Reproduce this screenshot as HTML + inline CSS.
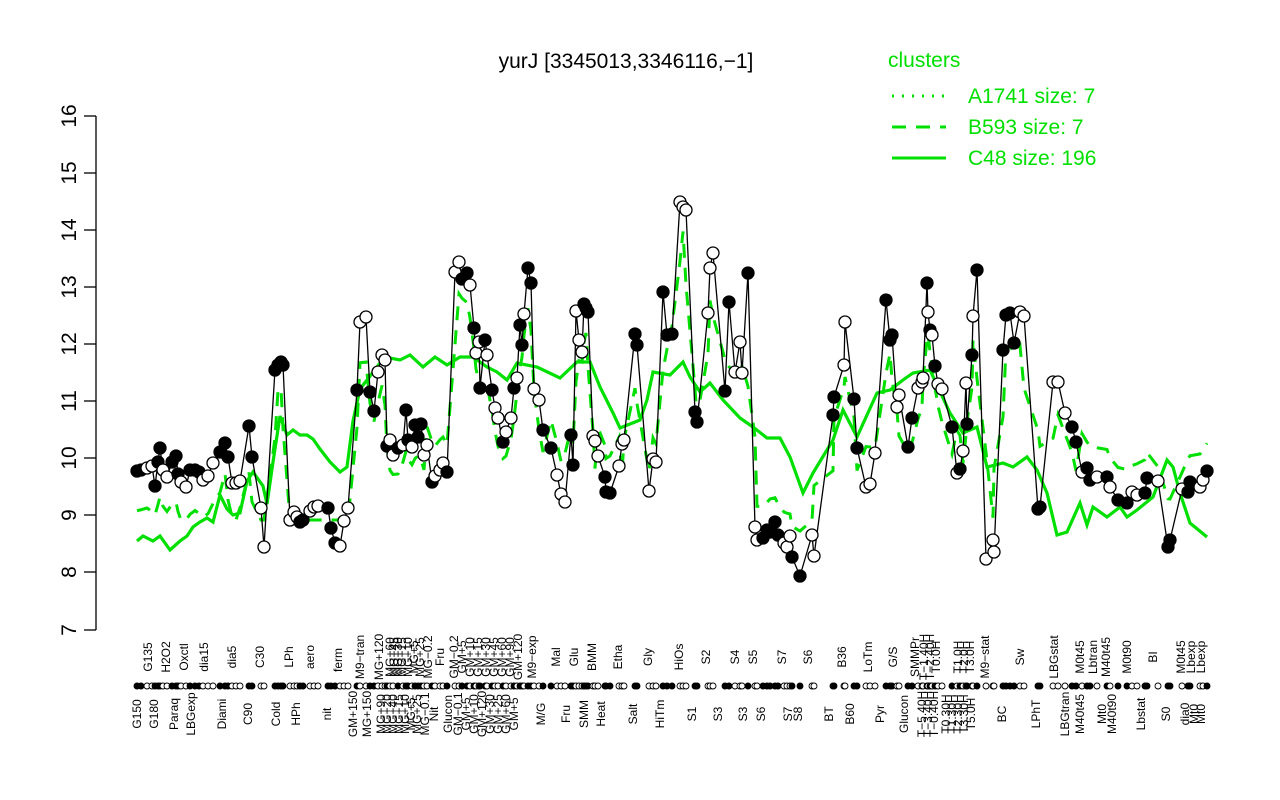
<!DOCTYPE html>
<html><head><meta charset="utf-8"><style>
html,body{margin:0;padding:0;background:#fff;}
svg{display:block;font-family:"Liberation Sans",Arial,sans-serif;}
</style></head><body>
<svg id="s" width="1280" height="800" viewBox="0 0 1280 800" xmlns="http://www.w3.org/2000/svg">
<rect width="1280" height="800" fill="#fff"/>
<text x="626" y="68" font-size="21" text-anchor="middle">yurJ [3345013,3346116,−1]</text>
<g stroke="#000" stroke-width="1.3">
<line x1="96" y1="116" x2="96" y2="630"/>
<line x1="84" y1="116" x2="96" y2="116"/><line x1="84" y1="173" x2="96" y2="173"/>
<line x1="84" y1="230" x2="96" y2="230"/><line x1="84" y1="287" x2="96" y2="287"/>
<line x1="84" y1="344" x2="96" y2="344"/><line x1="84" y1="401" x2="96" y2="401"/>
<line x1="84" y1="458" x2="96" y2="458"/><line x1="84" y1="515" x2="96" y2="515"/>
<line x1="84" y1="572" x2="96" y2="572"/><line x1="84" y1="630" x2="96" y2="630"/>
</g>
<g font-size="21" text-anchor="middle">
<text transform="translate(76,116) rotate(-90)">16</text>
<text transform="translate(76,173) rotate(-90)">15</text>
<text transform="translate(76,230) rotate(-90)">14</text>
<text transform="translate(76,287) rotate(-90)">13</text>
<text transform="translate(76,344) rotate(-90)">12</text>
<text transform="translate(76,401) rotate(-90)">11</text>
<text transform="translate(76,458) rotate(-90)">10</text>
<text transform="translate(76,515) rotate(-90)">9</text>
<text transform="translate(76,572) rotate(-90)">8</text>
<text transform="translate(76,630) rotate(-90)">7</text>
</g>
<g fill="#00e000" font-size="21">
<text x="888" y="67">clusters</text>
<text x="968" y="103">A1741 size: 7</text>
<text x="968" y="134">B593 size: 7</text>
<text x="968" y="165">C48 size: 196</text>
</g>
<g stroke="#00e000" stroke-width="3" fill="none">
<line x1="892" y1="96" x2="946" y2="96" stroke-dasharray="2,8"/>
<line x1="892" y1="127" x2="946" y2="127" stroke-dasharray="14,10"/>
<line x1="892" y1="158" x2="946" y2="158"/>
</g>
<g id="plot"></g>
<g font-size="12" text-anchor="middle">
<text transform="translate(152,657) rotate(-90)">G135</text>
<text transform="translate(170,657) rotate(-90)">H2O2</text>
<text transform="translate(188,657) rotate(-90)">Oxctl</text>
<text transform="translate(208,657) rotate(-90)">dia15</text>
<text transform="translate(236,657) rotate(-90)">dia5</text>
<text transform="translate(264,657) rotate(-90)">C30</text>
<text transform="translate(293,657) rotate(-90)">LPh</text>
<text transform="translate(314,657) rotate(-90)">aero</text>
<text transform="translate(342,660) rotate(-90)">ferm</text>
<text transform="translate(364,657) rotate(-90)">M9−tran</text>
<text transform="translate(383,657) rotate(-90)">MG+120</text>
<text transform="translate(394,657) rotate(-90)">MG+60</text>
<text transform="translate(398,657) rotate(-90)">MG+45</text>
<text transform="translate(402,657) rotate(-90)">MG+30</text>
<text transform="translate(406,657) rotate(-90)">MG+15</text>
<text transform="translate(412,657) rotate(-90)">MG+10</text>
<text transform="translate(418,657) rotate(-90)">MG+5</text>
<text transform="translate(424,657) rotate(-90)">MG+25</text>
<text transform="translate(432,657) rotate(-90)">MG−0.2</text>
<text transform="translate(444,657) rotate(-90)">Fru</text>
<text transform="translate(458,657) rotate(-90)">GM−0.2</text>
<text transform="translate(466,657) rotate(-90)">GM+5</text>
<text transform="translate(474,657) rotate(-90)">GM+10</text>
<text transform="translate(482,657) rotate(-90)">GM+15</text>
<text transform="translate(490,657) rotate(-90)">GM+30</text>
<text transform="translate(498,657) rotate(-90)">GM+45</text>
<text transform="translate(506,657) rotate(-90)">GM+60</text>
<text transform="translate(514,657) rotate(-90)">GM+90</text>
<text transform="translate(522,657) rotate(-90)">GM+120</text>
<text transform="translate(536,657) rotate(-90)">M9−exp</text>
<text transform="translate(560,657) rotate(-90)">Mal</text>
<text transform="translate(578,657) rotate(-90)">Glu</text>
<text transform="translate(596,657) rotate(-90)">BMM</text>
<text transform="translate(622,657) rotate(-90)">Etha</text>
<text transform="translate(652,657) rotate(-90)">Gly</text>
<text transform="translate(683,657) rotate(-90)">HiOs</text>
<text transform="translate(710,657) rotate(-90)">S2</text>
<text transform="translate(739,657) rotate(-90)">S4</text>
<text transform="translate(757,657) rotate(-90)">S5</text>
<text transform="translate(786,657) rotate(-90)">S7</text>
<text transform="translate(812,657) rotate(-90)">S6</text>
<text transform="translate(846,657) rotate(-90)">B36</text>
<text transform="translate(872,657) rotate(-90)">LoTm</text>
<text transform="translate(897,657) rotate(-90)">G/S</text>
<text transform="translate(919,657) rotate(-90)">SMMPr</text>
<text transform="translate(928,657) rotate(-90)">T−1.40H</text>
<text transform="translate(934,657) rotate(-90)">T−2.40H</text>
<text transform="translate(940,657) rotate(-90)">T0.0H</text>
<text transform="translate(962,657) rotate(-90)">T1.0H</text>
<text transform="translate(968,657) rotate(-90)">T2.0H</text>
<text transform="translate(974,657) rotate(-90)">T3.0H</text>
<text transform="translate(989,657) rotate(-90)">M9−stat</text>
<text transform="translate(1024,657) rotate(-90)">Sw</text>
<text transform="translate(1058,657) rotate(-90)">LBGstat</text>
<text transform="translate(1084,657) rotate(-90)">M0t45</text>
<text transform="translate(1097,657) rotate(-90)">Lbtran</text>
<text transform="translate(1110,657) rotate(-90)">M40t45</text>
<text transform="translate(1131,657) rotate(-90)">M0t90</text>
<text transform="translate(1157,657) rotate(-90)">BI</text>
<text transform="translate(1185,657) rotate(-90)">M0t45</text>
<text transform="translate(1195,657) rotate(-90)">Lbexp</text>
<text transform="translate(1205,657) rotate(-90)">Lbexp</text>
</g>
<g font-size="12" text-anchor="middle">
<text transform="translate(141,714) rotate(-90)">G150</text>
<text transform="translate(158,714) rotate(-90)">G180</text>
<text transform="translate(178,714) rotate(-90)">Paraq</text>
<text transform="translate(195,714) rotate(-90)">LBGexp</text>
<text transform="translate(226,714) rotate(-90)">Diami</text>
<text transform="translate(252,714) rotate(-90)">C90</text>
<text transform="translate(280,714) rotate(-90)">Cold</text>
<text transform="translate(300,714) rotate(-90)">HPh</text>
<text transform="translate(331,714) rotate(-90)">nit</text>
<text transform="translate(357,714) rotate(-90)">GM+150</text>
<text transform="translate(371,714) rotate(-90)">MG+150</text>
<text transform="translate(385,714) rotate(-90)">MG+90</text>
<text transform="translate(391,714) rotate(-90)">MG+20</text>
<text transform="translate(397,714) rotate(-90)">MG+40</text>
<text transform="translate(403,714) rotate(-90)">MG+15</text>
<text transform="translate(409,714) rotate(-90)">MG+10</text>
<text transform="translate(415,714) rotate(-90)">MG+5</text>
<text transform="translate(421,714) rotate(-90)">MG+25</text>
<text transform="translate(429,714) rotate(-90)">MG−0.1</text>
<text transform="translate(438,714) rotate(-90)">Nit</text>
<text transform="translate(452,714) rotate(-90)">Glucon</text>
<text transform="translate(462,714) rotate(-90)">GM−0.1</text>
<text transform="translate(470,714) rotate(-90)">GM+5</text>
<text transform="translate(478,714) rotate(-90)">GM+10</text>
<text transform="translate(486,714) rotate(-90)">GM+120</text>
<text transform="translate(494,714) rotate(-90)">GM+30</text>
<text transform="translate(502,714) rotate(-90)">GM+25</text>
<text transform="translate(510,714) rotate(-90)">GM+60</text>
<text transform="translate(518,714) rotate(-90)">GM+5</text>
<text transform="translate(545,714) rotate(-90)">M/G</text>
<text transform="translate(570,714) rotate(-90)">Fru</text>
<text transform="translate(588,714) rotate(-90)">SMM</text>
<text transform="translate(605,714) rotate(-90)">Heat</text>
<text transform="translate(637,714) rotate(-90)">Salt</text>
<text transform="translate(664,714) rotate(-90)">HiTm</text>
<text transform="translate(696,714) rotate(-90)">S1</text>
<text transform="translate(722,714) rotate(-90)">S3</text>
<text transform="translate(747,714) rotate(-90)">S3</text>
<text transform="translate(765,714) rotate(-90)">S6</text>
<text transform="translate(792,714) rotate(-90)">S7</text>
<text transform="translate(802,714) rotate(-90)">S8</text>
<text transform="translate(833,714) rotate(-90)">BT</text>
<text transform="translate(854,714) rotate(-90)">B60</text>
<text transform="translate(884,714) rotate(-90)">Pyr</text>
<text transform="translate(908,714) rotate(-90)">Glucon</text>
<text transform="translate(926,714) rotate(-90)">T−5.40H</text>
<text transform="translate(932,714) rotate(-90)">T−3.40H</text>
<text transform="translate(938,714) rotate(-90)">T−0.40H</text>
<text transform="translate(950,714) rotate(-90)">T0.30H</text>
<text transform="translate(956,714) rotate(-90)">T1.30H</text>
<text transform="translate(962,714) rotate(-90)">T2.30H</text>
<text transform="translate(968,714) rotate(-90)">T3.30H</text>
<text transform="translate(975,714) rotate(-90)">T5.0H</text>
<text transform="translate(1006,714) rotate(-90)">BC</text>
<text transform="translate(1040,714) rotate(-90)">LPhT</text>
<text transform="translate(1069,714) rotate(-90)">LBGtran</text>
<text transform="translate(1084,714) rotate(-90)">M40t45</text>
<text transform="translate(1106,714) rotate(-90)">Mt0</text>
<text transform="translate(1116,714) rotate(-90)">M40t90</text>
<text transform="translate(1145,714) rotate(-90)">Lbstat</text>
<text transform="translate(1170,714) rotate(-90)">S0</text>
<text transform="translate(1189,714) rotate(-90)">dia0</text>
<text transform="translate(1198,714) rotate(-90)">Mt0</text>
<text transform="translate(1205,714) rotate(-90)">Mt0</text>
</g>
</svg>
<script>
var P=[[137,471,1],[141,470,1],[147,468,0],[152,466,0],[155,486,1],[158,462,1],[160,448,1],[163,470,0],[167,477,0],[172,462,1],[176,456,1],[178,474,1],[181,482,0],[186,487,0],[190,470,1],[195,470,1],[199,472,1],[203,480,0],[208,476,0],[213,463,0],[220,452,1],[225,443,1],[228,457,1],[232,483,0],[236,483,0],[240,481,0],[249,426,1],[252,457,1],[261,508,0],[264,547,0],[275,370,1],[278,365,1],[281,362,1],[283,365,1],[290,520,0],[294,512,0],[297,517,0],[300,522,1],[303,520,1],[310,511,0],[314,507,0],[318,506,0],[328,508,1],[331,528,1],[335,543,1],[340,546,0],[344,521,0],[348,508,0],[357,390,1],[360,322,0],[366,317,0],[370,392,1],[374,411,1],[378,372,0],[382,355,0],[385,360,0],
[387,446,1],[390,440,0],[393,455,0],[398,448,1],[403,445,0],[406,410,1],[408,440,1],[412,447,0],[415,425,1],[418,437,1],[421,424,1],[424,455,0],[427,445,0],[432,482,1],[435,476,0],[440,470,0],[443,463,0],[447,472,1],
[455,272,0],[459,262,0],[462,279,1],[467,273,1],[470,285,0],[474,328,1],[476,353,0],[479,342,0],[480,388,1],[485,340,1],[487,355,0],[492,390,1],[495,408,0],[498,418,0],[503,442,1],[506,432,0],[511,418,0],[514,388,1],[517,378,0],[520,325,1],[522,345,1],[524,314,0],[528,268,1],[531,283,1],
[534,389,0],[539,400,0],[543,430,1],[551,448,1],[557,475,0],[561,494,0],[565,502,0],[571,435,1],[573,465,1],[576,311,0],[579,340,0],[582,352,0],[584,304,1],[586,308,1],[588,312,1],[593,436,0],[595,441,0],[598,456,0],[605,477,1],[606,492,1],[610,493,1],[619,466,0],[622,444,0],[624,440,0],[635,334,1],[637,345,1],[649,491,0],[653,459,0],[656,462,0],[663,292,1],[667,335,1],[672,334,1],[680,202,0],[683,207,0],[686,210,0],
[695,412,1],[697,422,1],[708,313,0],[710,268,0],[713,253,0],[725,391,1],[729,302,1],[735,372,0],[740,342,0],[742,373,0],[748,273,1],
[755,527,0],[757,540,0],[763,538,1],[767,530,1],[770,532,1],[775,522,1],[778,535,1],[784,543,0],[787,547,0],[790,536,0],[792,557,1],[800,576,1],[812,535,0],[814,556,0],
[833,415,1],[834,397,1],[844,365,0],[845,322,0],[854,399,1],[857,448,1],[866,487,0],[870,484,0],[875,453,0],[886,300,1],[890,340,1],[892,335,1],[897,407,0],[899,395,0],[908,447,1],[912,418,1],[918,388,0],[922,382,0],[923,378,0],[927,283,1],[928,312,0],[930,330,1],[932,335,0],[935,366,1],[938,384,0],[942,389,0],[952,427,1],[957,473,0],[960,469,1],[963,451,0],[966,383,0],[967,424,1],[972,355,1],[973,316,0],[977,270,1],[986,559,0],[993,540,0],[994,552,0],[1003,350,1],[1006,315,1],[1010,313,1],[1014,343,1],[1020,312,0],[1024,316,0],
[1038,509,1],[1040,507,1],[1053,382,0],[1058,382,0],[1065,413,0],[1072,427,1],[1076,442,1],[1082,472,0],[1087,468,1],[1090,480,1],[1097,477,0],[1107,477,1],[1110,487,0],[1118,500,1],[1127,503,1],[1132,492,0],[1137,495,0],[1145,493,1],[1147,478,1],[1158,481,0],[1168,547,1],[1170,540,1],[1182,489,0],[1188,492,1],[1190,482,1],[1200,487,0],[1203,480,0],[1207,471,1]];
var S=[[137,541],[143,536],[153,541],[160,536],[170,550],[180,541],[187,536],[193,527],[200,522],[207,518],[213,522],[220,495],[227,509],[233,515],[240,513],[247,481],[253,472],[263,486],[267,504],[273,462],[280,416],[287,435],[293,430],[300,435],[307,435],[313,439],[320,449],[330,462],[340,472],[347,467],[353,421],[360,389],[367,380],[380,363],[390,358],[400,360],[410,355],[423,367],[435,357],[447,365],[460,357],[473,357],[487,367],[497,372],[507,380],[517,363],[537,367],[560,378],[577,362],[590,362],[600,387],[613,413],[620,428],[640,420],[647,400],[653,372],[670,375],[683,362],[690,377],[700,392],[710,383],[723,400],[740,418],[753,427],[767,438],[780,438],[790,457],[803,493],[813,473],[833,440],[843,410],[857,437],[877,393],[890,390],[903,380],[913,373],[930,370],[950,413],[963,433],[977,427],[987,467],[1003,463],[1013,467],[1027,457],[1037,470],[1047,493],[1057,535],[1067,532],[1080,503],[1087,525],[1093,507],[1107,517],[1120,507],[1127,517],[1137,510],[1153,497],[1167,460],[1173,467],[1180,493],[1190,523],[1207,537]];
var ns="http://www.w3.org/2000/svg",g=document.getElementById("plot");
function el(t,a){var e=document.createElementNS(ns,t);for(var k in a)e.setAttribute(k,a[k]);g.appendChild(e);return e;}
var D=[];for(var i=0;i<P.length;i++){var a=P[Math.max(0,i-1)][1],b=P[i][1],c=P[Math.min(P.length-1,i+1)][1];var y=(a+b*2+c)/4;
if(P[i][0]<360){y=(y>450)?Math.min(y+40,520):y+25;}else{y=(y>450)?y-30:y+25;}D.push([P[i][0],y]);}
el("polyline",{points:D.map(function(p){return p.join(",")}).join(" "),fill:"none",stroke:"#00e000","stroke-width":3,"stroke-dasharray":"14,10"});
el("polyline",{points:S.map(function(p){return p.join(",")}).join(" "),fill:"none",stroke:"#00e000","stroke-width":3.2});
el("polyline",{points:P.map(function(p){return p[0]+","+p[1]}).join(" "),fill:"none",stroke:"#000","stroke-width":1.3});
P.forEach(function(p){el("circle",{cx:p[0],cy:p[1],r:6,fill:p[2]?"#000":"#fff",stroke:"#000","stroke-width":1.3});
el("circle",{cx:p[0],cy:686,r:3,fill:p[2]?"#000":"#fff",stroke:"#000","stroke-width":0.9});});
</script>
</body></html>
